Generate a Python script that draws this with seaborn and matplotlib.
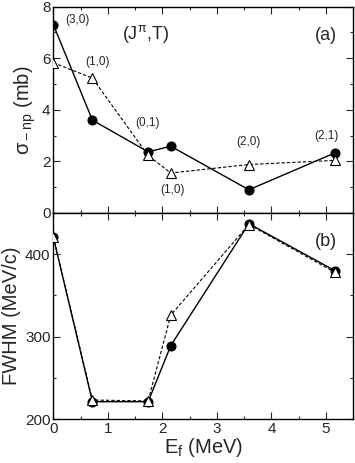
import numpy as np
import pandas as pd
import seaborn as sns
import matplotlib
matplotlib.use("Agg")
import matplotlib.pyplot as plt
from matplotlib.ticker import MultipleLocator

# excitation energies (MeV) of the final states
energies = [0.0, 0.718, 1.740, 2.154, 3.587, 5.164]
state_labels = ["(3,0)", "(1,0)", "(0,1)", "(1,0)", "(2,0)", "(2,1)"]

# panel (a): cross sections (mb)
sigma_full = [7.31, 3.60, 2.37, 2.59, 0.90, 2.33]
sigma_open = [5.83, 5.23, 2.23, 1.55, 1.88, 2.04]

# panel (b): FWHM (MeV/c)
fwhm_full = [421, 221, 221, 289, 437, 380]
fwhm_open = [421, 223, 222, 326, 436, 378]

sns.set_style("ticks")
plt.rcParams['font.family'] = ['Liberation Sans', 'DejaVu Sans']
plt.rcParams['mathtext.fontset'] = 'custom'
plt.rcParams['mathtext.rm'] = 'Liberation Sans'
plt.rcParams['mathtext.it'] = 'Liberation Sans:italic'

fig = plt.figure(figsize=(3.55, 4.63), dpi=100)
ax1 = fig.add_axes([0.150, 0.540, 0.845, 0.4455])
ax2 = fig.add_axes([0.150, 0.095, 0.845, 0.445])

def draw(ax, full, opn):
    sns.lineplot(x=energies, y=full, ax=ax, color='k', linewidth=1.0,
                 marker='o', markersize=6.5, markerfacecolor='k',
                 markeredgecolor='k', zorder=2)
    sns.lineplot(x=energies, y=opn, ax=ax, color='k', linestyle='--',
                 dashes=False, linewidth=0.8, marker='^', markersize=6.5,
                 markerfacecolor='white', markeredgecolor='k',
                 markeredgewidth=0.8, zorder=3)
    ax.lines[1].set_dashes((3, 1.8))
    ax.set_xlim(0, 5.5)
    ax.xaxis.set_major_locator(MultipleLocator(1))
    ax.xaxis.set_minor_locator(MultipleLocator(0.5))
    ax.tick_params(which='both', direction='in', top=True, right=True,
                   labelsize=11, pad=2)
    ax.tick_params(which='major', length=5, width=0.8)
    ax.tick_params(which='minor', length=2.5, width=0.8)
    for s in ax.spines.values():
        s.set_linewidth(1.0)
        s.set_color('k')

draw(ax1, sigma_full, sigma_open)
ax1.set_ylim(0, 8)
ax1.yaxis.set_major_locator(MultipleLocator(2))
ax1.yaxis.set_minor_locator(MultipleLocator(1))
ax1.tick_params(labelbottom=False)
ax1.set_ylabel('σ$_{\\rm -np}$ (mb)', fontsize=14.5, labelpad=3)

label_pos = [(0.45, 7.5), (0.82, 5.85), (1.73, 3.5), (2.18, 0.9), (3.58, 2.75), (5.0, 3.0)]
for lab, (lx, ly) in zip(state_labels, label_pos):
    ax1.text(lx, ly, lab, fontsize=8.5, ha='center', va='center')
ax1.text(1.7, 6.95, '(J$^{\\rm π}$,T)', fontsize=13, ha='center', va='center')
ax1.text(5.0, 6.9, '(a)', fontsize=13, ha='center', va='center')

draw(ax2, fwhm_full, fwhm_open)
ax2.set_ylim(200, 450)
ax2.yaxis.set_major_locator(MultipleLocator(100))
ax2.yaxis.set_minor_locator(MultipleLocator(50))
ax2.set_ylabel('FWHM (MeV/c)', fontsize=14.5, labelpad=3)
ax2.set_xlabel('E$_{\\rm f}$ (MeV)', fontsize=14.5, labelpad=0)
ax2.text(5.0, 415, '(b)', fontsize=13, ha='center', va='center')

fig.savefig('out.png', dpi=100)
